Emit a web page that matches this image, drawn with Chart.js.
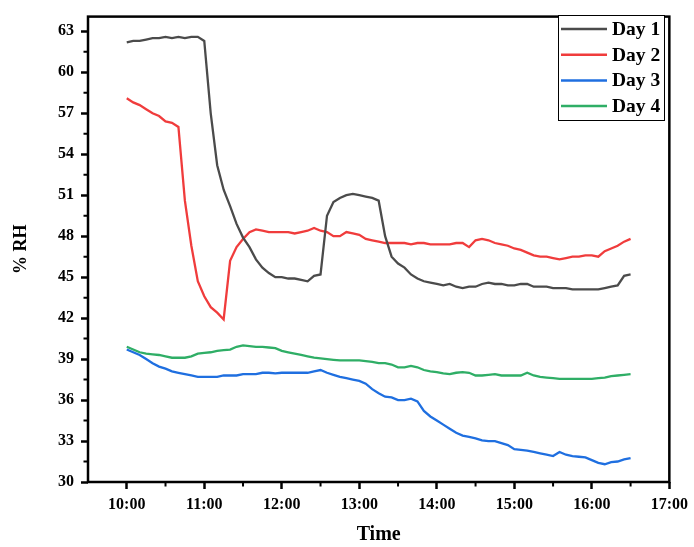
<!DOCTYPE html>
<html>
<head>
<meta charset="utf-8">
<title>% RH by day</title>
<script src="https://cdn.jsdelivr.net/npm/chart.js@4"></script>
<style>
  body { margin: 0; background: #fff; }
  #wrap { width: 694px; height: 547px; }
</style>
</head>
<body>
<div id="wrap"><canvas id="rhChart" width="694" height="547"></canvas></div>
<script>
// sampling times, every 5 minutes from 10:00 to 16:30
const times = [
  "10:00","10:05","10:10","10:15","10:20","10:25","10:30","10:35","10:40","10:45","10:50","10:55",
  "11:00","11:05","11:10","11:15","11:20","11:25","11:30","11:35","11:40","11:45","11:50","11:55",
  "12:00","12:05","12:10","12:15","12:20","12:25","12:30","12:35","12:40","12:45","12:50","12:55",
  "13:00","13:05","13:10","13:15","13:20","13:25","13:30","13:35","13:40","13:45","13:50","13:55",
  "14:00","14:05","14:10","14:15","14:20","14:25","14:30","14:35","14:40","14:45","14:50","14:55",
  "15:00","15:05","15:10","15:15","15:20","15:25","15:30","15:35","15:40","15:45","15:50","15:55",
  "16:00","16:05","16:10","16:15","16:20","16:25","16:30"
];

const day1 = [
  62.2,62.3,62.3,62.4,62.5,62.5,62.6,62.5,62.6,62.5,62.6,62.6,
  62.3,57.0,53.2,51.4,50.2,48.9,47.9,47.2,46.3,45.7,45.3,45.0,
  45.0,44.9,44.9,44.8,44.7,45.1,45.2,49.5,50.5,50.8,51.0,51.1,
  51.0,50.9,50.8,50.6,48.0,46.5,46.0,45.7,45.2,44.9,44.7,44.6,
  44.5,44.4,44.5,44.3,44.2,44.3,44.3,44.5,44.6,44.5,44.5,44.4,
  44.4,44.5,44.5,44.3,44.3,44.3,44.2,44.2,44.2,44.1,44.1,44.1,
  44.1,44.1,44.2,44.3,44.4,45.1,45.2
];

const day2 = [
  58.1,57.8,57.6,57.3,57.0,56.8,56.4,56.3,56.0,50.6,47.3,44.7,
  43.6,42.8,42.4,41.9,46.2,47.2,47.8,48.3,48.5,48.4,48.3,48.3,
  48.3,48.3,48.2,48.3,48.4,48.6,48.4,48.3,48.0,48.0,48.3,48.2,
  48.1,47.8,47.7,47.6,47.5,47.5,47.5,47.5,47.4,47.5,47.5,47.4,
  47.4,47.4,47.4,47.5,47.5,47.2,47.7,47.8,47.7,47.5,47.4,47.3,
  47.1,47.0,46.8,46.6,46.5,46.5,46.4,46.3,46.4,46.5,46.5,46.6,
  46.6,46.5,46.9,47.1,47.3,47.6,47.8
];

const day3 = [
  39.7,39.5,39.3,39.0,38.7,38.45,38.3,38.1,38.0,37.9,37.8,37.7,
  37.7,37.7,37.7,37.8,37.8,37.8,37.9,37.9,37.9,38.0,38.0,37.95,
  38.0,38.0,38.0,38.0,38.0,38.1,38.2,38.0,37.85,37.7,37.6,37.5,
  37.4,37.2,36.8,36.5,36.25,36.2,36.0,36.0,36.1,35.9,35.2,34.8,
  34.5,34.2,33.9,33.6,33.4,33.3,33.2,33.05,33.0,33.0,32.85,32.7,
  32.4,32.35,32.3,32.2,32.1,32.0,31.9,32.2,32.0,31.9,31.85,31.8,
  31.6,31.4,31.3,31.45,31.5,31.65,31.75
];

const day4 = [
  39.9,39.7,39.5,39.4,39.35,39.3,39.2,39.1,39.1,39.1,39.2,39.4,
  39.45,39.5,39.6,39.65,39.7,39.9,40.0,39.95,39.9,39.9,39.85,39.8,
  39.6,39.5,39.4,39.3,39.2,39.1,39.05,39.0,38.95,38.9,38.9,38.9,
  38.9,38.85,38.8,38.7,38.7,38.6,38.4,38.4,38.5,38.4,38.2,38.1,
  38.05,37.95,37.9,38.0,38.05,38.0,37.8,37.8,37.85,37.9,37.8,37.8,
  37.8,37.8,38.0,37.8,37.7,37.65,37.6,37.55,37.55,37.55,37.55,37.55,
  37.55,37.6,37.65,37.75,37.8,37.85,37.9
];

const seriesLabels = ["Day 1", "Day 2", "Day 3", "Day 4"];
const seriesColors = ["#4b4b4b", "#f03c3c", "#1f6fe0", "#2fae66"];

// axis ticks (hours for x)
const xTickHours = [10, 11, 12, 13, 14, 15, 16, 17];
const yTickValues = [30, 33, 36, 39, 42, 45, 48, 51, 54, 57, 60, 63];

const FONT = "'Liberation Serif', 'Times New Roman', serif";

function toHours(t) {
  const [h, m] = t.split(':').map(Number);
  return h + m / 60;
}

function pairs(values) {
  return values.map((v, i) => ({ x: toHours(times[i]), y: v }));
}

// frame, minor ticks and the legend box
const framePlugin = {
  id: 'frame',
  afterDraw(chart) {
    const { ctx, chartArea: a, scales } = chart;
    ctx.save();
    ctx.strokeStyle = '#000';
    ctx.lineWidth = 2.5;
    ctx.strokeRect(a.left, a.top, a.right - a.left, a.bottom - a.top);

    // minor ticks
    ctx.lineWidth = 2;
    ctx.beginPath();
    xTickHours.forEach(h => {
      const px = scales.x.getPixelForValue(h - 0.5);
      if (px > a.left + 1) {
        ctx.moveTo(px, a.bottom);
        ctx.lineTo(px, a.bottom + 4.5);
      }
    });
    yTickValues.forEach(v => {
      const py = scales.y.getPixelForValue(v + 1.5);
      if (py > a.top) {
        ctx.moveTo(a.left, py);
        ctx.lineTo(a.left - 4.5, py);
      }
    });
    ctx.stroke();

    // legend
    const bx = 558, by = 15, bw = 106, bh = 105;
    ctx.fillStyle = '#fff';
    ctx.fillRect(bx, by, bw, bh);
    ctx.lineWidth = 1;
    ctx.strokeStyle = '#000';
    ctx.strokeRect(bx + 0.5, by + 0.5, bw, bh);
    ctx.font = 'bold 19.5px ' + FONT;
    ctx.textBaseline = 'middle';
    chart.data.datasets.forEach((ds, i) => {
      const yy = by + 14 + i * 25.7;
      ctx.strokeStyle = ds.borderColor;
      ctx.lineWidth = 2.5;
      ctx.beginPath();
      ctx.moveTo(bx + 3, yy);
      ctx.lineTo(bx + 49, yy);
      ctx.stroke();
      ctx.fillStyle = '#000';
      ctx.fillText(ds.label, bx + 54, yy + 1);
    });
    ctx.restore();
  }
};

const ctx = document.getElementById('rhChart').getContext('2d');
new Chart(ctx, {
  type: 'line',
  data: {
    datasets: [day1, day2, day3, day4].map((vals, i) => ({
      label: seriesLabels[i],
      data: pairs(vals),
      borderColor: seriesColors[i],
      backgroundColor: seriesColors[i],
      borderWidth: 2.3,
      pointRadius: 0,
      tension: 0,
      fill: false
    }))
  },
  options: {
    responsive: false,
    animation: false,
    layout: { padding: { top: 8, right: 19, left: 0, bottom: 0 } },
    plugins: {
      legend: { display: false },
      tooltip: { enabled: false }
    },
    scales: {
      x: {
        type: 'linear',
        min: 9.5,
        max: 17,
        afterBuildTicks: scale => { scale.ticks = xTickHours.map(v => ({ value: v })); },
        afterFit: scale => { scale.height = 65; },
        grid: { drawOnChartArea: false, tickLength: 7, tickWidth: 2.5, tickColor: '#000' },
        border: { display: false },
        ticks: {
          color: '#000',
          padding: 6,
          maxRotation: 0,
          autoSkip: false,
          font: { family: FONT, size: 16, weight: 'bold' },
          callback: v => Math.round(v) + ':00'
        },
        title: {
          display: true,
          text: 'Time',
          color: '#000',
          padding: { top: 2, bottom: 0 },
          font: { family: FONT, size: 20, weight: 'bold' }
        }
      },
      y: {
        min: 30,
        max: 64.08,
        afterBuildTicks: scale => { scale.ticks = yTickValues.map(v => ({ value: v })); },
        afterFit: scale => { scale.width = 88; },
        grid: { drawOnChartArea: false, tickLength: 7, tickWidth: 2.5, tickColor: '#000' },
        border: { display: false },
        ticks: {
          color: '#000',
          padding: 7,
          autoSkip: false,
          font: { family: FONT, size: 16, weight: 'bold' },
          callback: v => v
        },
        title: {
          display: true,
          text: '% RH',
          color: '#000',
          padding: { top: 11, bottom: 0 },
          font: { family: FONT, size: 18, weight: 'bold' }
        }
      }
    }
  },
  plugins: [framePlugin]
});
</script>
</body>
</html>
